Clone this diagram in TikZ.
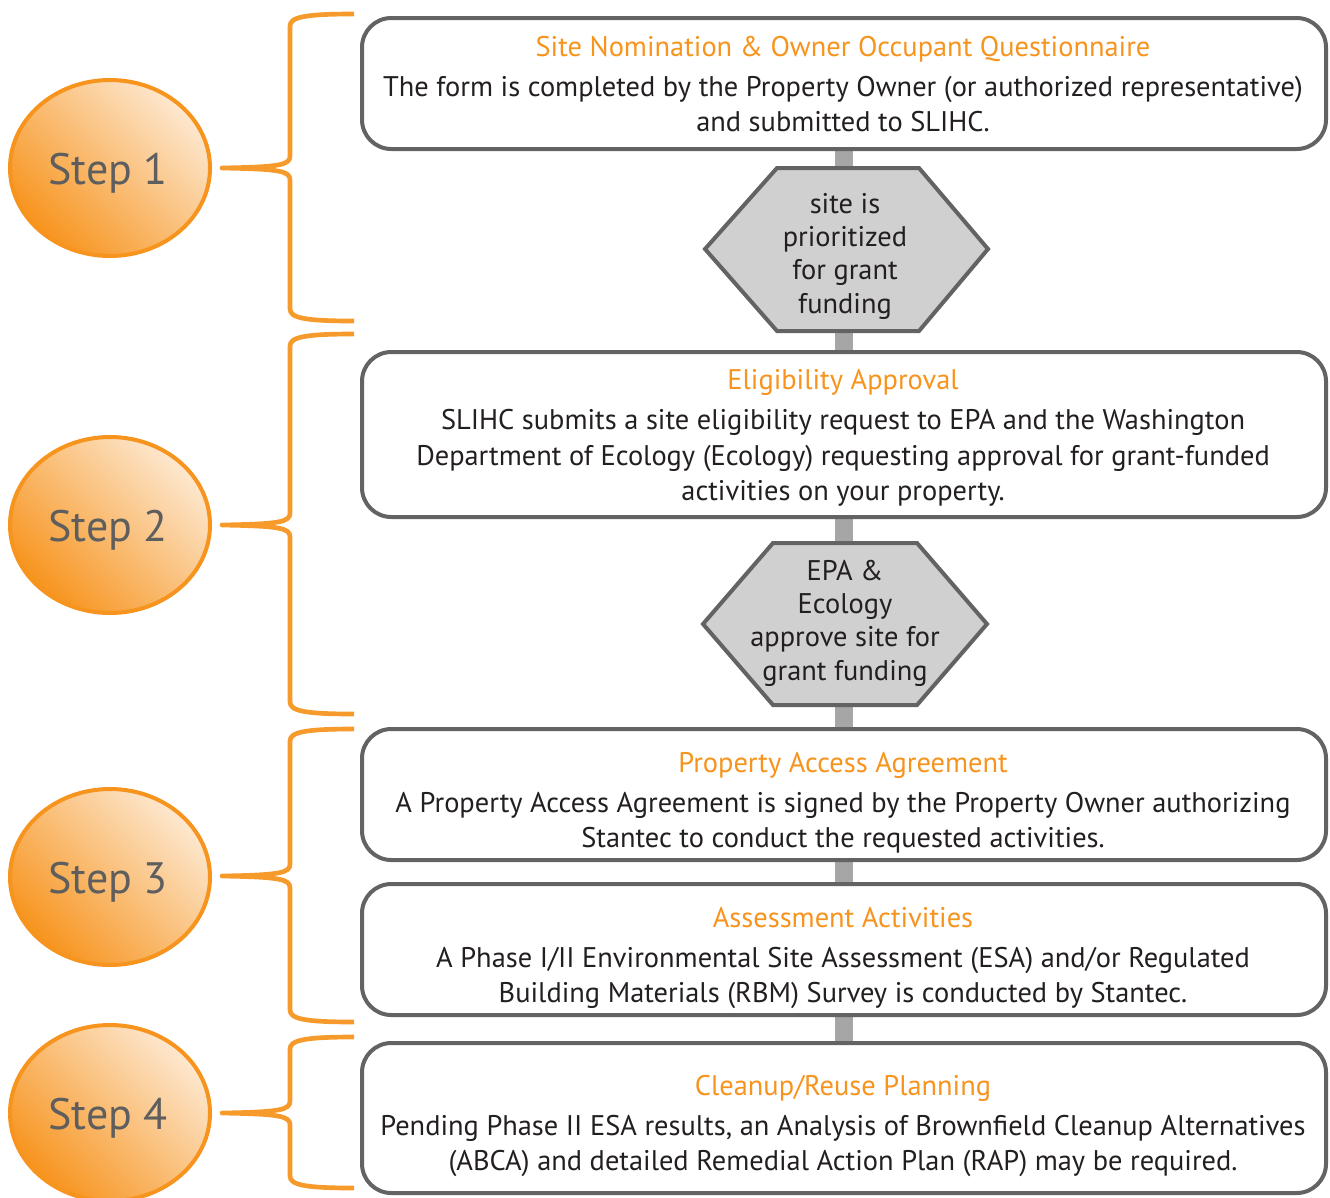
\documentclass[tikz,border=0pt]{standalone}
\usepackage{fontspec}
\setmainfont{PT Sans}
\usetikzlibrary{shapes.geometric,backgrounds}
\definecolor{orng}{HTML}{F7941E}
\definecolor{brk}{HTML}{F79A2C}
\definecolor{boxline}{HTML}{636363}
\definecolor{barcol}{HTML}{A6A6A6}
\definecolor{hexfill}{HTML}{D0D0D0}
\definecolor{txt}{HTML}{231F20}
\definecolor{steptxt}{HTML}{5E5E5E}
\definecolor{lightor}{HTML}{FDE8D0}
\newcommand\mybrace[3]{%
  \draw[brace] (354,#1) .. controls (305,#1) and (290,#1+3) .. (290,#1+12)
    -- (290,#2-12) .. controls (290,#2-3) and (280,#2-1) .. (222,#2)
    .. controls (280,#2+1) and (290,#2+3) .. (290,#2+12)
    -- (290,#3-12) .. controls (290,#3-3) and (305,#3) .. (354,#3);}
\begin{document}
\begin{tikzpicture}[x=0.75pt,y=-0.75pt,
 stepcirc/.style={ellipse, draw=orng, line width=3pt, minimum width=150pt, minimum height=132pt, inner sep=0pt, bottom color=orng, top color=lightor, shading angle=-45},
 steplabel/.style={font=\fontsize{33}{40}\selectfont, text=steptxt, inner sep=0pt},
 flowbox/.style={draw=boxline, line width=3pt, rounded corners=22pt, fill=white, minimum width=723pt, inner sep=0pt},
 head/.style={text=orng, font=\fontsize{21.3}{25}\selectfont, anchor=base, inner sep=0pt},
 body/.style={text=txt, font=\fontsize{21.3}{25}\selectfont, anchor=base, inner sep=0pt},
 hexshape/.style={draw=boxline, line width=3pt, fill=hexfill, line join=miter},
 hextext/.style={text=txt, font=\fontsize{21.3}{25}\selectfont, align=center, inner sep=0pt},
 brace/.style={draw=brk, line width=3.5pt, line join=round},
 connbar/.style={draw=barcol, line width=13.5pt}
]
\useasboundingbox (0,0) rectangle (1330,1197);

% step circles
\node[stepcirc] (s1) at (110,168) {};
\node[stepcirc] (s2) at (110,525) {};
\node[stepcirc] (s3) at (110,877) {};
\node[stepcirc] (s4) at (110,1113) {};
\node[steplabel] (l1) at (108,173) {Step 1};
\node[steplabel] (l2) at (108,530) {Step 2};
\node[steplabel] (l3) at (108,882) {Step 3};
\node[steplabel] (l4) at (108,1118) {Step 4};

% braces
\mybrace{14}{168}{321}
\mybrace{334}{525}{714}
\mybrace{729}{876}{1022}
\mybrace{1037}{1113}{1188}

% boxes
\node[flowbox, minimum height=98.25pt] (b1) at (844,83.5) {};
\node[flowbox, minimum height=123.75pt] (b2) at (844,434.5) {};
\node[flowbox, minimum height=98.25pt] (b3) at (844,794.5) {};
\node[flowbox, minimum height=98.25pt] (b4) at (844,949.5) {};
\node[flowbox, minimum height=112.5pt] (b5) at (844,1118) {};

% connectors
\begin{scope}[on background layer]
\draw[connbar] (b1.south) -- (b2.north);
\draw[connbar] (b2.south) -- (b3.north);
\draw[connbar] (b3.south) -- (b4.north);
\draw[connbar] (b4.south) -- (b5.north);
\end{scope}

% hexagons
\draw[hexshape] (705,249) -- (777,168) -- (919,168) -- (988,249) -- (919,331) -- (777,331) -- cycle;
\draw[hexshape] (703,624) -- (773,543) -- (917,543) -- (987,624) -- (917,705) -- (773,705) -- cycle;
\node[hextext] (h1) at (845,256) {site is\\prioritized\\for grant\\funding};
\node[hextext] (h2) at (845,623) {EPA \&\\Ecology\\approve site for\\grant funding};

% box texts
\node[head] (t1h) at (843,56) {Site Nomination \& Owner Occupant Questionnaire};
\node[body] (t1a) at (843,96) {The form is completed by the Property Owner (or authorized representative)};
\node[body] (t1b) at (843,131) {and submitted to SLIHC.};

\node[head] (t2h) at (843,389) {Eligibility Approval};
\node[body] (t2a) at (843,429) {SLIHC submits a site eligibility request to EPA and the Washington};
\node[body] (t2b) at (843,465) {Department of Ecology (Ecology) requesting approval for grant-funded};
\node[body] (t2c) at (843,500) {activities on your property.};

\node[head] (t3h) at (843,772) {Property Access Agreement};
\node[body] (t3a) at (843,812) {A Property Access Agreement is signed by the Property Owner authorizing};
\node[body] (t3b) at (843,847) {Stantec to conduct the requested activities.};

\node[head] (t4h) at (843,927) {Assessment Activities};
\node[body] (t4a) at (843,967) {A Phase I/II Environmental Site Assessment (ESA) and/or Regulated};
\node[body] (t4b) at (843,1002) {Building Materials (RBM) Survey is conducted by Stantec.};

\node[head] (t5h) at (843,1095) {Cleanup/Reuse Planning};
\node[body] (t5a) at (843,1135) {Pending Phase II ESA results, an Analysis of Brownfield Cleanup Alternatives};
\node[body] (t5b) at (843,1170) {(ABCA) and detailed Remedial Action Plan (RAP) may be required.};
\end{tikzpicture}
\end{document}
